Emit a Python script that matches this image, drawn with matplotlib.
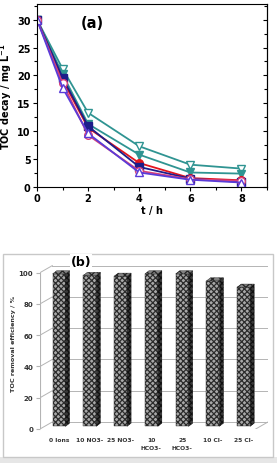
import matplotlib
matplotlib.use('Agg')
import matplotlib.pyplot as plt
from matplotlib.patches import Polygon, Rectangle
from matplotlib.ticker import MultipleLocator

# ---------------------------------------------------------------------------
# Datos panel (a): TOC vs tiempo
# ---------------------------------------------------------------------------
t_h = [0, 1, 2, 4, 6, 8]
toc_open_down = [30, 21.2, 13.3, 7.3, 4.0, 3.3]
toc_fill_down = [30, 20.2, 11.3, 5.8, 2.6, 2.4]
toc_red_circle = [30, 19.2, 10.6, 4.3, 1.6, 1.2]
toc_navy_square = [30, 19.6, 10.9, 3.6, 1.5, 0.9]
toc_pink_circle = [30, 18.6, 9.3, 2.9, 1.4, 1.1]
toc_purple_up = [30, 17.8, 9.6, 2.6, 1.3, 0.8]

# ---------------------------------------------------------------------------
# Datos panel (b): eficiencia de remoción
# ---------------------------------------------------------------------------
iones = ["0 Ions", "10 NO3-", "25 NO3-", "10\nHCO3-", "25\nHCO3-", "10 Cl-", "25 Cl-"]
eficiencia = [97.5, 96.5, 96, 97.5, 97.5, 93, 89]

plt.rcParams['hatch.linewidth'] = 0.9

W, H = 277, 464
fig = plt.figure(figsize=(W / 100, H / 100), dpi=100)

# ---------------------------------------------------------------------------
# Panel (a)
# ---------------------------------------------------------------------------
ax = fig.add_axes([37 / W, 1 - 188 / H, 230 / W, 183 / H])
teal = '#2f9492'
series = [
    (toc_open_down, teal, 'v', 'white'),
    (toc_fill_down, teal, 'v', teal),
    (toc_red_circle, '#e3141c', 'o', '#e3141c'),
    (toc_navy_square, '#1d1d8a', 's', '#1d1d8a'),
    (toc_pink_circle, '#d8407a', 'o', 'white'),
    (toc_purple_up, '#5a3cd8', '^', 'white'),
]
for ys, c, m, fc in series:
    ax.plot(t_h, ys, color=c, lw=1.3, marker=m, ms=5.5, mfc=fc, mec=c, mew=1.0)

ax.set_xlim(0, 9)
ax.set_ylim(0, 32.8)
ax.xaxis.set_major_locator(MultipleLocator(2))
ax.xaxis.set_minor_locator(MultipleLocator(1))
ax.yaxis.set_major_locator(MultipleLocator(5))
ax.yaxis.set_minor_locator(MultipleLocator(2.5))
ax.tick_params(which='both', direction='out', width=0.8, labelsize=7, pad=1.5)
ax.tick_params(which='major', length=3)
ax.tick_params(which='minor', length=2)
for lab in ax.get_xticklabels() + ax.get_yticklabels():
    lab.set_fontweight('bold')
for sp in ax.spines.values():
    sp.set_linewidth(0.8)

der = ax.secondary_yaxis('right')
der.yaxis.set_major_locator(MultipleLocator(5))
der.yaxis.set_minor_locator(MultipleLocator(2.5))
der.tick_params(which='both', direction='in', labelright=False, width=0.8)
der.tick_params(which='major', length=3)
der.tick_params(which='minor', length=2)

ax.set_xlabel("t / h", fontsize=7, fontweight='bold', labelpad=1)
ax.set_ylabel("TOC decay / mg L$^{\\mathbf{-1}}$", fontsize=7, fontweight='bold', labelpad=2)
ax.text(2.15, 29.5, "(a)", fontsize=10.5, fontweight='bold', ha='center', va='center')

# ---------------------------------------------------------------------------
# Panel (b): barras estilo 3D
# ---------------------------------------------------------------------------
fig.patches.append(Rectangle((0, 0), 1, 6 / H, transform=fig.transFigure,
                             facecolor='#e6e6e6', edgecolor='none', zorder=-5))
fig.patches.append(Rectangle((3 / W, 1 - 458 / H), 270 / W, 203 / H,
                             transform=fig.transFigure, facecolor='none',
                             edgecolor='#c8c8c8', lw=1.0, zorder=-5))

bx = fig.add_axes([40 / W, 1 - 430 / H, 228 / W, 172 / H])
bx.patch.set_alpha(0)
xmin, xmax = -0.62, 6.79
bx.set_xlim(xmin, xmax)
bx.set_ylim(0, 110)
dxw, dyw = 0.4, 4.5      # profundidad de la pared
dxs, dys = 0.13, 2.0     # cara lateral de las barras
gris = '#b4b4b4'

for v in range(0, 101, 20):
    bx.plot([xmin, xmin + dxw], [v, v + dyw], color=gris, lw=0.7)
    if v > 0:
        bx.plot([xmin + dxw, xmax], [v + dyw, v + dyw], color=gris, lw=0.7)
# piso
bx.plot([xmin + dxw, xmax], [dyw, dyw], color=gris, lw=0.7)
bx.plot([xmin, xmax - dxw], [0, 0], color=gris, lw=0.7)
bx.plot([xmax - dxw, xmax], [0, dyw], color=gris, lw=0.7)
bx.plot([xmin, xmin], [0, 100], color=gris, lw=0.8)

pos = list(range(len(iones)))
base = 1.7
ancho = 0.42
bx.bar(pos, eficiencia, width=ancho, bottom=base, facecolor='#a8a8a8',
       edgecolor='#2c2c2c', hatch='xxxxxx', lw=0.3, zorder=3)
for x, v in zip(pos, eficiencia):
    r = x + ancho / 2
    l = x - ancho / 2
    top = base + v
    bx.add_patch(Polygon([(r, base), (r + dxs, base + dys), (r + dxs, top + dys), (r, top)],
                         facecolor='#3a3a3a', edgecolor='#111111', hatch='xxxxxx',
                         lw=0.3, zorder=3))
    bx.add_patch(Polygon([(l, top), (r, top), (r + dxs, top + dys), (l + dxs, top + dys)],
                         facecolor='#808080', edgecolor='#222222', hatch='xxxx',
                         lw=0.3, zorder=3))

for sp in bx.spines.values():
    sp.set_visible(False)
bx.set_yticks(range(0, 101, 20))
bx.set_xticks(pos)
bx.set_xticklabels(iones, fontsize=4.3, fontweight='bold', color='#333333',
                   linespacing=1.6, va='top')
bx.tick_params(axis='x', length=0, pad=6)
bx.tick_params(axis='y', length=3, color=gris, labelsize=5, labelcolor='#333333', pad=2)
for lab in bx.get_yticklabels():
    lab.set_fontweight('bold')
bx.set_ylabel("TOC removal efficiency / %", fontsize=4.6, fontweight='bold',
              color='#333333', labelpad=2)
bx.text(0.72, 107, "(b)", fontsize=9, fontweight='bold', ha='center', va='center',
        bbox=dict(facecolor='white', edgecolor='none', pad=0.5))

fig.savefig("out.png", dpi=100)
